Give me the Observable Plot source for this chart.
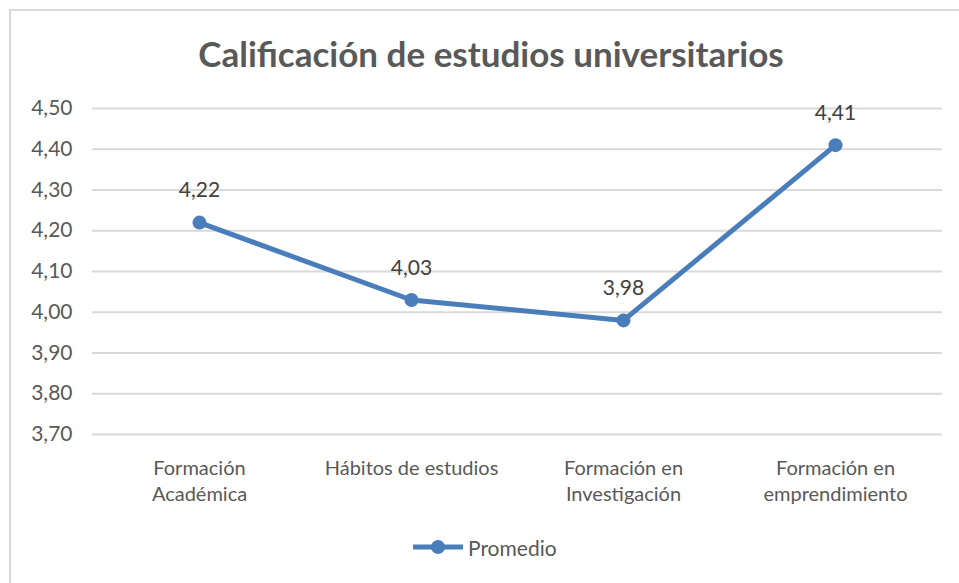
<!DOCTYPE html>
<html><head><meta charset="utf-8">
<script src="https://cdn.jsdelivr.net/npm/d3@7"></script>
<script src="https://cdn.jsdelivr.net/npm/@observablehq/plot@0.6"></script>
<style>
body{margin:0;background:#fff;}
#wrap{position:relative;width:959px;height:583px;overflow:hidden;font-family:Lato,"Open Sans",sans-serif;background:#fff;}
#frame{position:absolute;left:9px;top:9px;width:1200px;height:1200px;border-left:2px solid #d9d9d9;border-top:2px solid #d9d9d9;}
#title{position:absolute;left:0;width:982px;top:32px;text-align:center;font-size:35px;font-weight:bold;color:#595959;white-space:nowrap;}
#chart{position:absolute;left:0;top:0;}
#legend{position:absolute;left:413px;top:533px;height:28px;display:flex;align-items:center;font-size:21px;color:#595959;}
#legend svg{margin-right:5px;}
</style></head><body>
<div id="wrap">
 <div id="frame"></div>
 <div id="chart"></div>
 <div id="title">Calificación de estudios universitarios</div>
 <div id="legend"></div>
</div>
<script>
const categories = ["Formación\nAcadémica", "Hábitos de estudios", "Formación en\nInvestigación", "Formación en\nemprendimiento"];
const promedio = [4.22, 4.03, 3.98, 4.41];
const yTicks = [3.7, 3.8, 3.9, 4.0, 4.1, 4.2, 4.3, 4.4, 4.5];
const seriesName = "Promedio";
const lineColor = "#4a7ebb";

const data = categories.map((c, i) => ({categoria: c, valor: promedio[i]}));
const fmt = v => v.toFixed(2).replace(".", ",");

const plot = Plot.plot({
  width: 959, height: 583,
  marginTop: 108, marginBottom: 149, marginLeft: 92, marginRight: 17,
  style: {fontFamily: "Lato, 'Open Sans', sans-serif", fontSize: "21px", color: "#595959", background: "transparent", overflow: "visible"},
  x: {type: "point", domain: categories, padding: 0.5, axis: null},
  y: {domain: [3.7, 4.5], axis: null},
  marks: [
    Plot.ruleY(yTicks, {stroke: "#d9d9d9", strokeWidth: 2}),
    Plot.axisY({ticks: yTicks, tickSize: 0, tickPadding: 20, tickFormat: fmt, fontSize: 21, label: null}),
    Plot.axisX({tickSize: 0, tickPadding: 22, lineHeight: 1.3, fontSize: 20, tickFormat: d => d, label: null}),
    Plot.line(data, {x: "categoria", y: "valor", stroke: lineColor, strokeWidth: 5}),
    Plot.dot(data, {x: "categoria", y: "valor", r: 7, fill: lineColor}),
    Plot.text(data, {x: "categoria", y: "valor", text: d => fmt(d.valor), dy: -32, fill: "#404040", fontSize: 21})
  ]
});
document.getElementById("chart").appendChild(plot);

const lg = document.getElementById("legend");
lg.innerHTML = `<svg width="50" height="20"><line x1="0" y1="10" x2="50" y2="10" stroke="${lineColor}" stroke-width="5"/><circle cx="25" cy="10" r="7" fill="${lineColor}"/></svg><span>${seriesName}</span>`;
</script>
</body></html>
